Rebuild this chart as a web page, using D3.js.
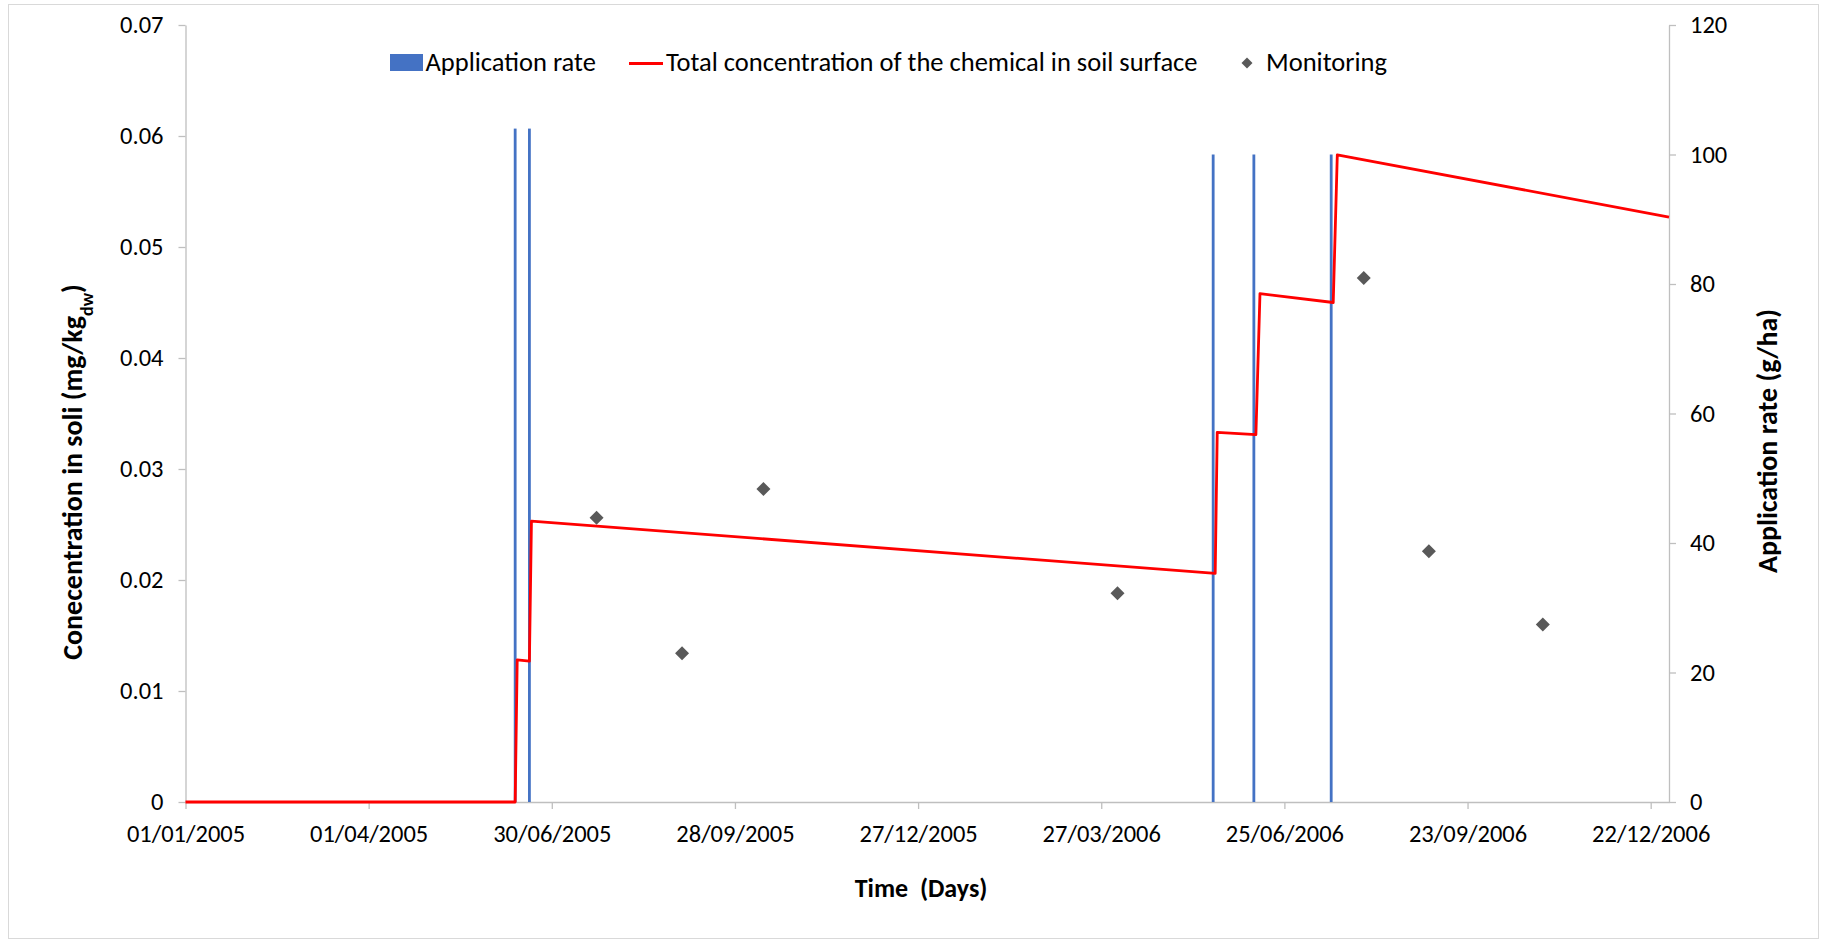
<!DOCTYPE html>
<html>
<head>
<meta charset="utf-8">
<script src="https://cdn.jsdelivr.net/npm/d3@7"></script>
<style>
  body { margin: 0; background: #fff; }
  text { font-family: Carlito, "Liberation Sans", Arial, sans-serif; fill: #000; }
</style>
</head>
<body>
<div id="chart"></div>
<script>
// Application events (secondary axis, g/ha)
const applicationDates = ["12/06/2005", "19/06/2005", "21/05/2006", "10/06/2006", "18/07/2006"];
const applicationRates = [104, 104, 100, 100, 100];

// Total concentration in soil surface, breakpoints of the modelled line (mg/kg dw)
const concentrationDates = ["01/01/2005", "12/06/2005", "13/06/2005", "19/06/2005", "20/06/2005",
  "22/05/2006", "23/05/2006", "11/06/2006", "13/06/2006", "19/07/2006", "21/07/2006", "31/12/2006"];
const concentrationValues = [0, 0, 0.0128, 0.0127, 0.0253,
  0.0206, 0.0333, 0.0331, 0.0458, 0.0450, 0.0583, 0.0527];

// Monitoring samples (mg/kg dw)
const monitoringDates = ["22/07/2005", "02/09/2005", "12/10/2005", "04/04/2006", "03/08/2006", "04/09/2006", "30/10/2006"];
const monitoringValues = [0.0256, 0.0134, 0.0282, 0.0188, 0.0472, 0.0226, 0.0160];

// Axis ticks
const xTickLabels = ["01/01/2005", "01/04/2005", "30/06/2005", "28/09/2005", "27/12/2005",
  "27/03/2006", "25/06/2006", "23/09/2006", "22/12/2006"];
const xDomain = ["01/01/2005", "31/12/2006"];
const leftTicks = [0, 0.01, 0.02, 0.03, 0.04, 0.05, 0.06, 0.07];
const rightTicks = [0, 20, 40, 60, 80, 100, 120];

/**
 * Draw the combined soil concentration / application rate chart.
 */
function soilChart(chartLocation, width, height) {
  const parse = d3.utcParse("%d/%m/%Y");
  const plot = { left: 185.5, right: 1669, top: 25, bottom: 802 };

  const svg = d3.select(chartLocation).append("svg")
    .attr("width", width)
    .attr("height", height);

  // Chart area border
  svg.append("rect")
    .attr("x", 8.5).attr("y", 4.5)
    .attr("width", 1810).attr("height", 934)
    .attr("fill", "none")
    .attr("stroke", "#D9D9D9");

  const x = d3.scaleUtc()
    .domain(xDomain.map(parse))
    .range([plot.left, plot.right]);
  const yLeft = d3.scaleLinear().domain([0, 0.07]).range([plot.bottom, plot.top]);
  const yRight = d3.scaleLinear().domain([0, 120]).range([plot.bottom, plot.top]);

  // Axes
  const xAxis = svg.append("g")
    .attr("transform", `translate(0,${plot.bottom})`)
    .call(d3.axisBottom(x)
      .tickValues(xTickLabels.map(parse))
      .tickFormat(d3.utcFormat("%d/%m/%Y"))
      .tickSize(7).tickSizeOuter(0).tickPadding(16));

  const leftAxis = svg.append("g")
    .attr("transform", `translate(${plot.left},0)`)
    .call(d3.axisLeft(yLeft)
      .tickValues(leftTicks)
      .tickFormat(d => d === 0 ? "0" : d3.format(".2f")(d))
      .tickSize(7).tickSizeOuter(0).tickPadding(15));

  const rightAxis = svg.append("g")
    .attr("transform", `translate(${plot.right},0)`)
    .call(d3.axisRight(yRight)
      .tickValues(rightTicks)
      .tickSize(7).tickSizeOuter(0).tickPadding(14));

  [xAxis, leftAxis, rightAxis].forEach(a => {
    a.selectAll("path, line").attr("stroke", "#BFBFBF").attr("stroke-width", 1.3);
    a.selectAll("text").style("font-size", "24.5px").attr("fill", "#000");
  });

  // Application rate bars (secondary axis)
  svg.append("g").selectAll("rect")
    .data(applicationDates.map((d, i) => ({ date: parse(d), value: applicationRates[i] })))
    .enter().append("rect")
    .attr("x", d => x(d.date) - 1.4)
    .attr("width", 2.8)
    .attr("y", d => yRight(d.value))
    .attr("height", d => yRight(0) - yRight(d.value))
    .attr("fill", "#4472C4");

  // Concentration line
  const concentration = concentrationDates.map((d, i) => ({ date: parse(d), value: concentrationValues[i] }));
  const line = d3.line().x(d => x(d.date)).y(d => yLeft(d.value));
  svg.append("path")
    .datum(concentration)
    .attr("d", line)
    .attr("fill", "none")
    .attr("stroke", "#FF0000")
    .attr("stroke-width", 2.8)
    .attr("stroke-linejoin", "round");

  // Monitoring diamonds
  const diamond = d3.symbol().type(d3.symbolSquare).size(98);
  svg.append("g").selectAll("path")
    .data(monitoringDates.map((d, i) => ({ date: parse(d), value: monitoringValues[i] })))
    .enter().append("path")
    .attr("d", diamond)
    .attr("transform", d => `translate(${x(d.date)},${yLeft(d.value)}) rotate(45)`)
    .attr("fill", "#595959");

  // Axis titles
  const leftTitle = svg.append("text")
    .attr("transform", "translate(82,472) rotate(-90)")
    .attr("text-anchor", "middle")
    .style("font-size", "28px")
    .style("font-weight", "bold");
  leftTitle.append("tspan").text("Conecentration in soli (mg/kg");
  leftTitle.append("tspan").attr("baseline-shift", "sub").style("font-size", "18px").text("dw");
  leftTitle.append("tspan").text(")");

  svg.append("text")
    .attr("transform", "translate(1777,441) rotate(-90)")
    .attr("text-anchor", "middle")
    .style("font-size", "28px")
    .style("font-weight", "bold")
    .text("Application rate (g/ha)");

  svg.append("text")
    .attr("x", 921).attr("y", 897)
    .attr("text-anchor", "middle")
    .style("font-size", "26px")
    .style("font-weight", "bold")
    .style("white-space", "pre")
    .text("Time  (Days)");

  // Legend
  const legend = svg.append("g");
  legend.append("rect")
    .attr("x", 390).attr("y", 54).attr("width", 33).attr("height", 17)
    .attr("fill", "#4472C4");
  legend.append("text").attr("x", 425.5).attr("y", 71)
    .style("font-size", "26.5px").text("Application rate");
  legend.append("line")
    .attr("x1", 629).attr("x2", 663).attr("y1", 63.5).attr("y2", 63.5)
    .attr("stroke", "#FF0000").attr("stroke-width", 3);
  legend.append("text").attr("x", 666).attr("y", 71)
    .style("font-size", "26.5px").text("Total concentration of the chemical in soil surface");
  legend.append("path")
    .attr("d", d3.symbol().type(d3.symbolSquare).size(60))
    .attr("transform", "translate(1247,63) rotate(45)")
    .attr("fill", "#595959");
  legend.append("text").attr("x", 1266).attr("y", 71)
    .style("font-size", "26.5px").text("Monitoring");
}

soilChart("#chart", 1822, 944);
</script>
</body>
</html>
